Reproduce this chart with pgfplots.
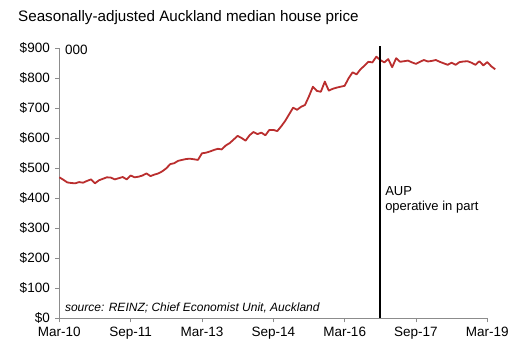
\documentclass[border=0pt]{standalone}
\usepackage{fontspec}
\setmainfont{Liberation Sans}
\usepackage{pgfplots}
\pgfplotsset{compat=1.18}
\definecolor{priceline}{RGB}{186,46,46}
\definecolor{axgrey}{RGB}{140,140,140}
\begin{document}
\begin{tikzpicture}
\useasboundingbox (-59.3bp,-36.7bp) rectangle (471.7bp,318.3bp);
\begin{axis}[
  scale only axis,
  width=428bp, height=270bp,
  xmin=0, xmax=108, ymin=0, ymax=900,
  clip=false,
  axis x line*=bottom, axis y line*=left,
  axis line style={axgrey, line width=0.9bp, -},
  xtick={0,18,36,54,72,90,108},
  xticklabels={Mar-10,Sep-11,Mar-13,Sep-14,Mar-16,Sep-17,Mar-19},
  ytick={0,100,...,900},
  yticklabels={\$0,\$100,\$200,\$300,\$400,\$500,\$600,\$700,\$800,\$900},
  tick style={axgrey, line width=0.9bp},
  tick align=outside,
  major tick length=4bp,
  ticklabel style={font=\fontsize{13.5bp}{15bp}\selectfont, text=black},
  xticklabel style={yshift=-1bp},
  yticklabel style={xshift=-2bp},
  /pgf/number format/assume math mode=true,
]
\addplot[priceline, line width=1.8bp, line join=round] coordinates {
(0,470)(1,462)(2,453)(3,451)(4,450)(5,454)(6,452)(7,458)(8,463)(9,450)
(10,460)(11,465)(12,470)(13,469)(14,463)(15,467)(16,471)(17,463)(18,476)(19,470)
(20,472)(21,476)(22,483)(23,474)(24,479)(25,483)(26,490)(27,500)(28,514)(29,517)
(30,525)(31,528)(32,531)(33,532)(34,530)(35,528)(36,550)(37,552)(38,556)(39,561)
(40,565)(41,563)(42,576)(43,584)(44,596)(45,608)(46,601)(47,592)(48,610)(49,621)
(50,614)(51,619)(52,610)(53,628)(54,628)(55,624)(56,640)(57,658)(58,680)(59,702)
(60,695)(61,705)(62,711)(63,740)(64,772)(65,758)(66,755)(67,789)(68,759)(69,765)
(70,769)(71,772)(72,775)(73,800)(74,820)(75,813)(76,830)(77,842)(78,855)(79,853)
(80,872)(81,861)(82,853)(83,864)(84,837)(85,867)(86,855)(87,857)(88,859)(89,853)
(90,848)(91,855)(92,861)(93,856)(94,858)(95,861)(96,855)(97,850)(98,845)(99,852)
(100,845)(101,854)(102,856)(103,857)(104,852)(105,845)(106,857)(107,843)(108,854)(109,840)
(110,830)
};
\addplot[black, line width=2.2bp] coordinates {(81,0)(81,908)};
\node[anchor=base west, inner sep=0pt, font=\fontsize{13.5bp}{15bp}\selectfont] at (axis cs:1.4,881) {000};
\node[anchor=base west, inner sep=0pt, font=\fontsize{13bp}{15bp}\selectfont] at (axis cs:82.2,409) {AUP};
\node[anchor=base west, inner sep=0pt, font=\fontsize{13bp}{15bp}\selectfont] at (axis cs:82.2,361) {operative in part};
\node[anchor=base west, inner sep=0pt, font=\fontsize{12bp}{14bp}\selectfont\itshape] at (axis cs:1.4,22) {source: REINZ; Chief Economist Unit, Auckland};
\end{axis}
\node[anchor=base west, inner sep=0pt, font=\fontsize{15.2bp}{17bp}\selectfont] at (-41.3bp,296.7bp) {Seasonally-adjusted Auckland median house price};
\end{tikzpicture}
\end{document}
